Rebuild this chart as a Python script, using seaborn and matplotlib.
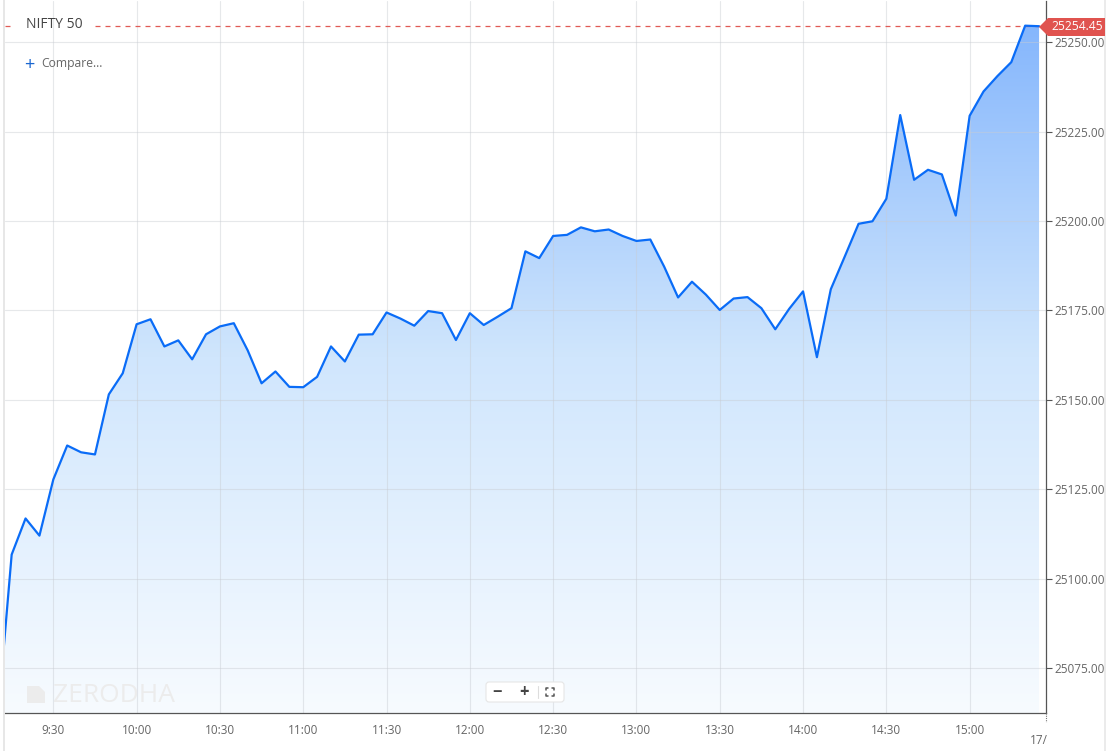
import numpy as np
import pandas as pd
import seaborn as sns
import matplotlib.pyplot as plt
from matplotlib.colors import LinearSegmentedColormap
from matplotlib.patches import Polygon, FancyBboxPatch
from matplotlib.lines import Line2D
from matplotlib.transforms import IdentityTransform

# 5-minute closes of NIFTY 50
times = ['09:10'] + [t.strftime('%H:%M') for t in pd.date_range('09:15', '15:25', freq='5min')]
prices = [
    25061.0, 25106.7, 25116.8, 25112.0, 25127.7, 25137.2, 25135.3, 25134.7, 25151.5, 25157.4,
    25171.1, 25172.5, 25164.9, 25166.6, 25161.3, 25168.3, 25170.5, 25171.4, 25163.8, 25154.6,
    25157.9, 25153.6, 25153.5, 25156.4, 25164.9, 25160.7, 25168.2, 25168.3, 25174.4, 25172.7,
    25170.7, 25174.8, 25174.2, 25166.7, 25174.2, 25170.9, 25173.2, 25175.6, 25191.5, 25189.6,
    25195.8, 25196.1, 25198.2, 25197.1, 25197.6, 25195.8, 25194.4, 25194.8, 25187.2, 25178.6,
    25183.0, 25179.4, 25175.1, 25178.3, 25178.7, 25175.6, 25169.7, 25175.4, 25180.3, 25161.9,
    25180.9, 25190.0, 25199.2, 25199.9, 25206.2, 25229.6, 25211.5, 25214.3, 25213.0, 25201.5,
    25229.4, 25236.2, 25240.5, 25244.4, 25254.6, 25254.45,
]
last_price = 25254.45
xtick_times = ['09:30', '10:00', '10:30', '11:00', '11:30', '12:00', '12:30',
               '13:00', '13:30', '14:00', '14:30', '15:00']
xtick_labels = ['9:30', '10:00', '10:30', '11:00', '11:30', '12:00', '12:30',
                '13:00', '13:30', '14:00', '14:30', '15:00']
yticks = [25075, 25100, 25125, 25150, 25175, 25200, 25225, 25250]


def minutes(hhmm):
    h, m = hhmm.split(':')
    return (int(h) - 9) * 60 + int(m)


df = pd.DataFrame({'minute': [minutes(t) for t in times], 'price': prices})

sns.set_style('white')
plt.rcParams['font.family'] = ['Open Sans', 'DejaVu Sans']

W, H = 1110, 751
fig = plt.figure(figsize=(W / 100, H / 100), dpi=100)
ax = fig.add_axes([5 / W, 38 / H, 1041 / W, 712 / H])

x0, x1 = 12.6, 387.5
y0, y1 = 25062.4, 25261.5
ax.set_xlim(x0, x1)
ax.set_ylim(y0, y1)

# gradient area under the line
cmap = LinearSegmentedColormap.from_list('fill', ['#f7fbff', '#d0e6fd', '#80b3fc'])
grad = np.linspace(0, 1, 256).reshape(-1, 1)
img = ax.imshow(grad, extent=[x0, x1, y0, y1], origin='lower', aspect='auto',
                cmap=cmap, zorder=1)
poly = ax.fill_between(df['minute'], df['price'], y0, color='none', lw=0)
img.set_clip_path(poly.get_paths()[0], transform=ax.transData)

sns.lineplot(data=df, x='minute', y='price', ax=ax, color='#0a6cf7',
             linewidth=1.6, zorder=4)

# grid
for m in [minutes(t) for t in xtick_times]:
    ax.axvline(m, color='#c8ccd2', lw=0.8, alpha=0.45, zorder=2)
for v in yticks:
    ax.axhline(v, color='#c8ccd2', lw=0.8, alpha=0.45, zorder=2)

# last-price line, interrupted behind the title
ax.hlines(last_price, x0, 14.4, color='#e05a55', lw=0.9, ls=(0, (4, 4)), zorder=3)
ax.hlines(last_price, 45.0, x1, color='#e05a55', lw=0.9, ls=(0, (4, 4)), zorder=3)

ax.set_xticks([minutes(t) for t in xtick_times])
ax.set_xticklabels(xtick_labels)
ax.set_yticks(yticks)
ax.set_yticklabels([f'{v:.2f}' for v in yticks])
ax.yaxis.tick_right()
ax.tick_params(axis='both', which='major', labelsize=8.5, labelcolor='#666666',
               color='#555555', length=4, width=0.8, direction='out', pad=2)
ax.tick_params(axis='x', pad=4)
ax.tick_params(axis='y', left=False, right=True)
ax.set_xlabel('')
ax.set_ylabel('')
for side in ['top', 'left']:
    ax.spines[side].set_visible(False)
for side in ['right', 'bottom']:
    ax.spines[side].set_color('#555555')
    ax.spines[side].set_linewidth(0.9)

ident = IdentityTransform()


def px(x, y):
    return x, H - y


# frame lines
fig.add_artist(Line2D([4, 4], [0, H], transform=ident, color='#e3e3e3', lw=1.2))
fig.add_artist(Line2D([1105, 1105], [0, H], transform=ident, color='#e8e8e8', lw=1.2))

# title and compare
fig.text(*px(26, 24), 'NIFTY 50', transform=ident, fontsize=10, color='#444444',
         va='center', ha='left')
fig.text(*px(29, 65), '+', transform=ident, fontsize=13, color='#1a66d0',
         va='center', ha='center')
fig.text(*px(41, 64), 'Compare...', transform=ident, fontsize=8.7, color='#666666',
         va='center', ha='left')

# last price tag
tag = Polygon([px(1039, 27), px(1048, 18), px(1105, 18), px(1105, 36), px(1048, 36)],
              closed=True, transform=ident, fc='#e0534f', ec='none', zorder=10)
fig.add_artist(tag)
fig.text(*px(1077, 27), f'{last_price:.2f}', transform=ident, fontsize=8.7,
         color='white', va='center', ha='center', zorder=11)

# watermark
fig.add_artist(Polygon([px(27, 686), px(39, 686), px(45, 692), px(45, 703), px(27, 703)],
                       closed=True, transform=ident, fc='#ececec', ec='none'))
fig.text(*px(53, 695), 'ZERODHA', transform=ident, fontsize=19, color='#ececec',
         va='center', ha='left')

# zoom controls
fig.add_artist(FancyBboxPatch(px(486, 702), 78, 20, boxstyle='round,pad=0,rounding_size=3',
                              transform=ident, fc='white', ec='#e6e6e6', lw=0.8, zorder=10))
fig.text(*px(497, 692), '−', transform=ident, fontsize=12, color='#444444',
         va='center', ha='center', fontweight='bold', zorder=11)
fig.text(*px(524, 692), '+', transform=ident, fontsize=12, color='#444444',
         va='center', ha='center', fontweight='bold', zorder=11)
fig.add_artist(Line2D([538, 538], [H - 686, H - 698], transform=ident, color='#dddddd',
                      lw=0.8, zorder=11))
cx, cy, s, c = 550, 692, 4, 2
for dx, dy in [(-1, -1), (1, -1), (-1, 1), (1, 1)]:
    xs = [cx + dx * s, cx + dx * s, cx + dx * (s - c)]
    ys = [cy + dy * (s - c), cy + dy * s, cy + dy * s]
    fig.add_artist(Line2D(xs, [H - y for y in ys], transform=ident, color='#555555',
                          lw=1.1, zorder=11))

# next-day marker at the axis end
fig.add_artist(Line2D([1046, 1046], [H - 713, H - 722], transform=ident, color='#777777',
                      lw=0.8, ls=(0, (1, 1))))
fig.text(*px(1048, 740), '17/', transform=ident, fontsize=8.5, color='#666666',
         va='center', ha='right')

fig.savefig('out.png', dpi=100)
